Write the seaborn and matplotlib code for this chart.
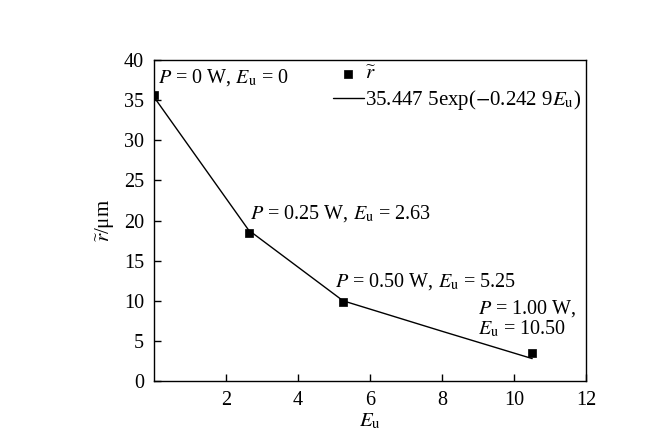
import numpy as np
import pandas as pd
import seaborn as sns
import matplotlib
matplotlib.use("Agg")
import matplotlib.pyplot as plt

# measured points (E_u, r~)
eu = [0.0, 2.63, 5.25, 10.50]
r_mean = [35.6, 18.4, 9.9, 3.5]

# fitted curve
fit_x = [0.0, 2.63, 5.25, 8.0, 10.5]
fit_y = [35.4, 18.8, 10.0, 6.2, 2.8]

labels = [r"$P$ = 0 W, $E_\mathrm{u}$ = 0",
          r"$P$ = 0.25 W, $E_\mathrm{u}$ = 2.63",
          r"$P$ = 0.50 W, $E_\mathrm{u}$ = 5.25",
          "$P$ = 1.00 W,\n$E_\\mathrm{u}$ = 10.50"]
label_pos = [(0.1, 37.8), (2.67, 20.9), (5.03, 12.4), (9.0, 7.8)]

sns.set_theme(style="ticks")
plt.rcParams['font.family'] = ['Liberation Serif', 'DejaVu Serif']
plt.rcParams['mathtext.fontset'] = 'stix'
plt.rcParams['text.color'] = 'black'
plt.rcParams['axes.labelcolor'] = 'black'
plt.rcParams['xtick.color'] = 'black'
plt.rcParams['ytick.color'] = 'black'

pts = pd.DataFrame({"Eu": eu, "r": r_mean})
fit = pd.DataFrame({"Eu": fit_x, "r": fit_y})

fig = plt.figure(figsize=(6.55, 4.38), dpi=100)
ax = fig.add_axes([0.235, 0.130, 0.660, 0.733])

sns.scatterplot(data=pts, x="Eu", y="r", marker="s", s=40, color="black",
                edgecolor="black", label=r"$\widetilde{r}$", ax=ax, zorder=3)
sns.lineplot(data=fit, x="Eu", y="r", color="black", lw=1.0,
             label=r"35.447 5exp($-$0.242 9$E_\mathrm{u}$)", ax=ax)

for txt, (tx, ty) in zip(labels, label_pos):
    ax.text(tx, ty, txt, fontsize=14.5, va="center", ha="left",
            linespacing=1.0, color="black")

ax.set_xlim(0, 12)
ax.set_ylim(0, 40)
ax.set_xticks([2, 4, 6, 8, 10, 12])
ax.set_yticks(range(0, 41, 5))
ax.tick_params(direction="in", length=5, width=1, labelsize=14.5,
               top=False, right=False, pad=7)
for s in ax.spines.values():
    s.set_linewidth(1.0)
    s.set_color("black")

ax.set_xlabel(r"$E_\mathrm{u}$", fontsize=15, labelpad=1)
ax.set_ylabel(r"$\widetilde{r}$/μm", fontsize=15, labelpad=6)

ax.legend(loc="upper left", bbox_to_anchor=(0.385, 1.025), frameon=False,
          fontsize=15, handlelength=1.5, handletextpad=0.05,
          labelspacing=0.2, borderaxespad=0.2)

fig.savefig("out.png", dpi=100)
